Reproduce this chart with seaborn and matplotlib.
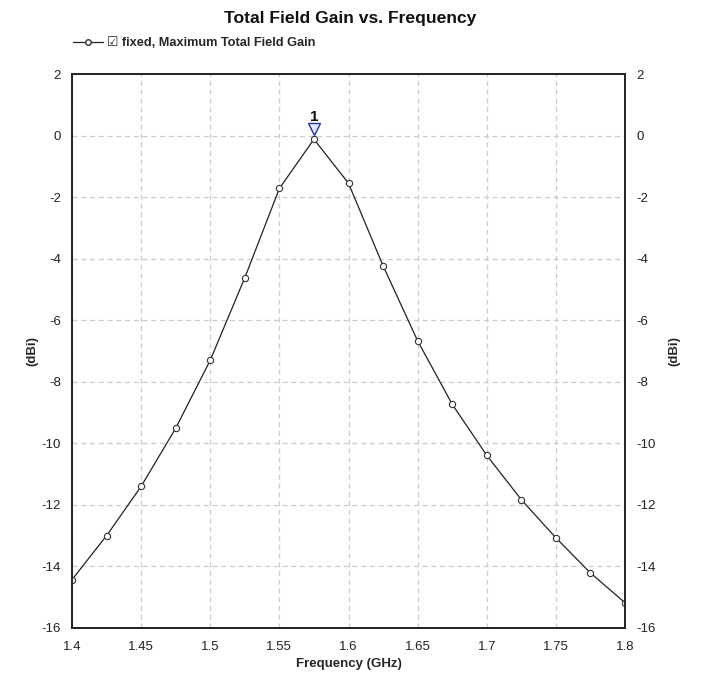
import matplotlib
matplotlib.use("Agg")
import matplotlib.pyplot as plt
import seaborn as sns
import pandas as pd
from matplotlib.lines import Line2D

freq = [1.4, 1.425, 1.45, 1.475, 1.5, 1.525, 1.55, 1.575, 1.6, 1.625,
        1.65, 1.675, 1.7, 1.725, 1.75, 1.775, 1.8]
gain = [-14.43, -13.0, -11.4, -9.51, -7.3, -4.62, -1.72, -0.12, -1.55, -4.23,
        -6.67, -8.73, -10.39, -11.83, -13.07, -14.21, -15.18]
x_ticks = [1.4, 1.45, 1.5, 1.55, 1.6, 1.65, 1.7, 1.75, 1.8]
x_labels = ["1.4", "1.45", "1.5", "1.55", "1.6", "1.65", "1.7", "1.75", "1.8"]
y_ticks = [-16, -14, -12, -10, -8, -6, -4, -2, 0, 2]
marker_x = [1.575]
marker_y = [-0.12]
marker_label = "1"
series_name = "fixed, Maximum Total Field Gain"

df = pd.DataFrame({"freq": freq, "gain": gain})

sns.set_theme(style="white")
plt.rcParams["font.family"] = ["Liberation Sans", "DejaVu Sans"]
plt.rcParams["axes.unicode_minus"] = False

fig = plt.figure(figsize=(7.07, 6.84), dpi=100)
ax = fig.add_axes([72/707, 1-628/684, (625-72)/707, (628-74)/684])

sns.lineplot(data=df, x="freq", y="gain", ax=ax, color="#222222", linewidth=0.9,
             marker="o", markersize=4.5, markerfacecolor="white",
             markeredgecolor="#333333", markeredgewidth=0.8)

ax.set_xlim(1.4, 1.8)
ax.set_ylim(-16, 2)
ax.set_xticks(x_ticks)
ax.set_xticklabels(x_labels)
ax.set_yticks(y_ticks)
ax.grid(True, color="#cccccc", linestyle=(0, (4, 3)), linewidth=0.9)
for s in ax.spines.values():
    s.set_color("#222222")
    s.set_linewidth(1.2)
ax.tick_params(axis="both", labelsize=9.5, colors="#222222", length=0, pad=8)
ax.tick_params(axis="x", pad=9)
ax.set_xlabel("Frequency (GHz)", fontsize=9.5, fontweight="bold", labelpad=4)
ax.set_ylabel("(dBi)", fontsize=9.5, fontweight="bold", labelpad=2)

ax2 = ax.twinx()
ax2.set_ylim(-16, 2)
ax2.set_yticks(y_ticks)
ax2.tick_params(axis="y", labelsize=9.5, colors="#222222", length=0, pad=8)
ax2.set_ylabel("(dBi)", fontsize=9.5, fontweight="bold", labelpad=9)
for s in ax2.spines.values():
    s.set_color("#222222")
    s.set_linewidth(1.2)

# marker 1
ax.plot(marker_x, [marker_y[0] + 0.32], marker="v", markersize=9,
        markerfacecolor="#e6e8ff", markeredgecolor="#2233aa",
        markeredgewidth=1.0, linestyle="none", zorder=5)
ax.text(marker_x[0], marker_y[0] + 0.5, marker_label, ha="center", va="bottom",
        fontsize=11, fontweight="bold", color="#111111")

fig.text(350/707, 1-18/684, "Total Field Gain vs. Frequency", ha="center", va="center",
         fontsize=12.6, fontweight="bold", color="#111111")

handle = Line2D([], [], color="#222222", linewidth=0.9, marker="o", markersize=4,
                markerfacecolor="white", markeredgecolor="#333333")
fig.legend([handle], ["\u2611 " + series_name], loc="center left",
           bbox_to_anchor=(61/707, 1-43/684), frameon=False, handlelength=2.4,
           handletextpad=0.3, prop={"weight": "bold", "size": 9.2,
                                    "family": ["Liberation Sans", "DejaVu Sans"]})

fig.savefig("out.png", dpi=100, facecolor="white")
